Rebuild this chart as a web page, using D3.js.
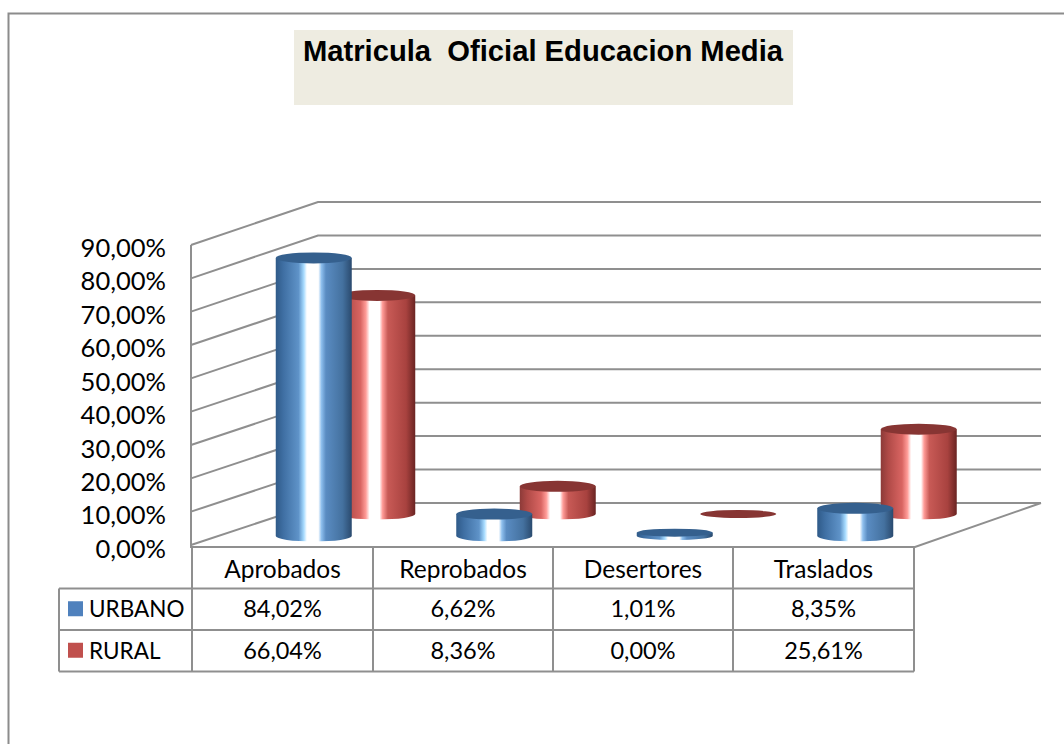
<!DOCTYPE html>
<html><head><meta charset="utf-8">
<script src="https://cdn.jsdelivr.net/npm/d3@7"></script>
<style>html,body{margin:0;padding:0;background:#fff}svg{display:block}text{font-family:Lato,"Noto Sans",sans-serif;fill:#000}</style>
</head><body>
<svg id="c" width="1064" height="744"></svg>
<script>
const titleText = "Matricula  Oficial Educacion Media";
const categories = ["Aprobados","Reprobados","Desertores","Traslados"];
const seriesNames = ["URBANO","RURAL"];
const urbano = [84.02,6.62,1.01,8.35];
const rural = [66.04,8.36,0.00,25.61];
const urbanoLabels = ["84,02%","6,62%","1,01%","8,35%"];
const ruralLabels = ["66,04%","8,36%","0,00%","25,61%"];
const ticks = [0,10,20,30,40,50,60,70,80,90];
const tickLabels = ["0,00%","10,00%","20,00%","30,00%","40,00%","50,00%","60,00%","70,00%","80,00%","90,00%"];

const svg = d3.select("#c");
const grid = "#8f8f8f";
const defs = svg.append("defs");
function grad(id, stops){
  const g = defs.append("linearGradient").attr("id",id);
  stops.forEach(s=>g.append("stop").attr("offset",s[0]).attr("stop-color",s[1]));
}
grad("gb",[[0,"#2f5a88"],[.1,"#3f6fa3"],[.3,"#5f93c8"],[.37,"#a8dcff"],[.41,"#ffffff"],[.56,"#ffffff"],[.6,"#8fc0ee"],[.66,"#5a8cc2"],[.88,"#44719f"],[1,"#2a4a6e"]]);
grad("gr",[[0,"#8c3a38"],[.1,"#b04a47"],[.28,"#d96562"],[.35,"#ff9c98"],[.4,"#ffffff"],[.53,"#ffffff"],[.57,"#ff9c98"],[.64,"#c85a56"],[.88,"#a8423f"],[1,"#6a2422"]]);

// frame
svg.append("path").attr("d","M8.5,744V13.5H1064").attr("fill","none").attr("stroke","#8c8c8c").attr("stroke-width",2);

// title
svg.append("rect").attr("x",294).attr("y",30).attr("width",499).attr("height",75).attr("fill","#eeece1");
svg.append("text").text(titleText).attr("x",543).attr("y",61).attr("text-anchor","middle")
  .style("font-family","Liberation Sans").style("font-weight","bold").style("font-size","29.2px").style("white-space","pre");

// 3D wall grid
const depthX = 127, frontLeft = 191, frontRight = 915, backRight = 1041;
const yFront = d3.scaleLinear().domain([0,90]).range([545,245]);
const yBack = d3.scaleLinear().domain([0,90]).range([503,202]);
const g = svg.append("g").attr("fill","none").attr("stroke",grid).attr("stroke-width",2);
ticks.forEach(t=>{
  g.append("path").attr("d",`M${frontLeft},${yFront(t)}L${frontLeft+depthX},${yBack(t)}H${backRight}`);
});
g.append("path").attr("d",`M${frontLeft},${yFront(90)}V${yFront(0)+2}H${frontRight}L${backRight},${yBack(0)}`);

// axis labels
const yLabel = d3.scaleLinear().domain([0,90]).range([549,248]);
svg.append("g").selectAll("text").data(ticks).join("text")
  .attr("x",166).attr("y",d=>yLabel(d)).attr("dy","0.35em").attr("text-anchor","end")
  .style("font-size","25.5px").text((d,i)=>tickLabels[i]);

// cylinders
const x = d3.scaleBand().domain(categories).range([223.5,945.5]);
const yBar = d3.scaleLinear().domain([0,100]).range([0,331]);
const barW = 76;
function cylinders(values, off, base, top, id){
  const gg = svg.append("g");
  categories.forEach((c,i)=>{
    const v = values[i], cx = x(c)+off, h = yBar(v), rx = barW/2;
    const ry = v < 3 ? 4 : 5.5;
    const ty = base - h;
    if (h > 0) gg.append("path").attr("fill",`url(#${id})`)
      .attr("d",`M${cx-rx},${ty}V${base}A${rx},${ry} 0 0 0 ${cx+rx},${base}V${ty}Z`);
    gg.append("ellipse").attr("cx",cx).attr("cy",ty).attr("rx",rx).attr("ry",ry).attr("fill",top);
  });
}
cylinders(rural, x.bandwidth()/2+63.5, 514, "#873533", "gr");
cylinders(urbano, x.bandwidth()/2, 536, "#35608e", "gb");

// data table
const colEdges = [192,373,553,733,914];
const rows = [547,588.5,630,671.5];
const tb = svg.append("g").attr("fill","none").attr("stroke",grid).attr("stroke-width",2);
colEdges.forEach(e=>tb.append("line").attr("x1",e).attr("x2",e).attr("y1",rows[0]).attr("y2",rows[3]));
[1,2,3].forEach(r=>tb.append("line").attr("x1",59).attr("x2",914).attr("y1",rows[r]).attr("y2",rows[r]));
tb.append("line").attr("x1",59).attr("x2",59).attr("y1",rows[1]).attr("y2",rows[3]);

const colMid = i => (colEdges[i]+colEdges[i+1])/2;
[[categories,0,"24.5px"],[urbanoLabels,1,"23.5px"],[ruralLabels,2,"23.5px"]].forEach(([arr,r,fs])=>{
  svg.append("g").selectAll("text").data(arr).join("text")
    .attr("x",(d,i)=>colMid(i)).attr("y",(rows[r]+rows[r+1])/2+(r===0?2:0)).attr("dy","0.35em")
    .attr("text-anchor","middle").style("font-size",fs).text(d=>d);
});
const keys = ["#4f81bd","#c0504d"];
seriesNames.forEach((s,i)=>{
  const my = (rows[i+1]+rows[i+2])/2;
  svg.append("rect").attr("x",68).attr("y",my-8).attr("width",15).attr("height",15).attr("fill",keys[i]);
  svg.append("text").attr("x",89).attr("y",my).attr("dy","0.35em").style("font-size","22.5px").text(s);
});
</script>
</body></html>
